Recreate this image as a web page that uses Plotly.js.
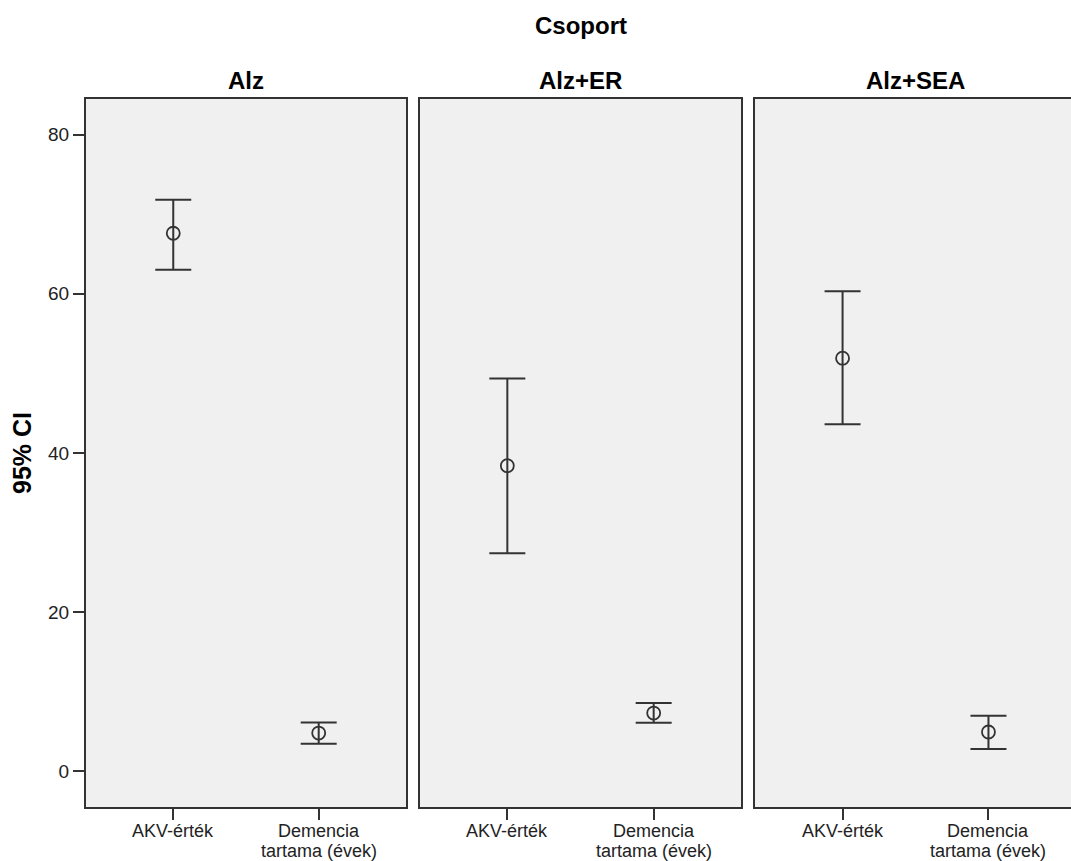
<!DOCTYPE html>
<html><head><meta charset="utf-8">
<script src="https://cdn.plot.ly/plotly-3.0.1.min.js"></script>
<style>html,body{margin:0;padding:0;overflow:hidden;background:#fff;}</style>
</head><body>
<div id="chart" style="width:1080px;height:861px;"></div>
<script>
// Data
const groups = ["Alz", "Alz+ER", "Alz+SEA"];
const categories = ["AKV-érték", "Demencia tartama (évek)"];
const categoryLines = [["AKV-érték"], ["Demencia", "tartama (évek)"]];
const means = [[67.6, 4.82], [38.4, 7.33], [51.9, 4.95]];
const upper = [[71.8, 6.15], [49.35, 8.59], [60.3, 7.0]];
const lower = [[63.0, 3.48], [27.4, 6.11], [43.6, 2.81]];
const yTicks = [0, 20, 40, 60, 80];
const mainTitle = "Csoport";
const yTitle = "95% CI";

const lineCol = "#333333";
const fontFam = "Liberation Sans, Arial, sans-serif";
const traces = groups.map((g, i) => ({
  type: "scatter", mode: "markers",
  x: categories, y: means[i],
  xaxis: i === 0 ? "x" : "x" + (i + 1),
  yaxis: i === 0 ? "y" : "y" + (i + 1),
  marker: {symbol: "circle-open", size: 13, color: lineCol, line: {width: 1.8, color: lineCol}},
  error_y: {type: "data", symmetric: false,
    array: upper[i].map((u, k) => u - means[i][k]),
    arrayminus: lower[i].map((l, k) => means[i][k] - l),
    color: lineCol, thickness: 2, width: 18},
  showlegend: false, hoverinfo: "skip"
}));

const domains = [[0, 0.3232], [0.3369, 0.6621], [0.6758, 1]];
const annotations = [
  {text: "<b>" + mainTitle + "</b>", xref: "paper", yref: "paper", x: 0.4995, y: 1, yshift: 74,
   showarrow: false, xanchor: "center", yanchor: "middle", font: {size: 24, color: "#000", family: fontFam}},
  {text: "<b>" + yTitle + "</b>", xref: "paper", yref: "paper", x: 0, y: 0.5, xshift: -64,
   textangle: -90, showarrow: false, xanchor: "center", yanchor: "middle",
   font: {size: 25, color: "#000", family: fontFam}}
];
groups.forEach((g, i) => {
  annotations.push({
    text: "<b>" + g + "</b>", xref: "paper", yref: "paper",
    x: (domains[i][0] + domains[i][1]) / 2, y: 1, yshift: 19,
    showarrow: false, xanchor: "center", yanchor: "middle", font: {size: 24, color: "#000", family: fontFam}
  });
  const xr = i === 0 ? "x" : "x" + (i + 1);
  categories.forEach((c, k) => {
    categoryLines[k].forEach((ln, j) => {
      annotations.push({
        text: ln, xref: xr, yref: "paper", x: c, y: 0, yshift: -23.5 - 20.5 * j,
        showarrow: false, xanchor: "center", yanchor: "middle",
        font: {size: 18, color: "#222", family: fontFam}
      });
    });
  });
});

const layout = {
  width: 1080, height: 861,
  margin: {l: 86, r: 4, t: 99, b: 54},
  paper_bgcolor: "#ffffff", plot_bgcolor: "#f0f0f0",
  font: {family: fontFam, color: "#222", size: 19},
  showlegend: false,
  annotations: annotations
};
groups.forEach((g, i) => {
  const xk = i === 0 ? "xaxis" : "xaxis" + (i + 1);
  const yk = i === 0 ? "yaxis" : "yaxis" + (i + 1);
  layout[xk] = {
    domain: domains[i], anchor: i === 0 ? "y" : "y" + (i + 1),
    type: "category", range: [-0.6, 1.6], fixedrange: true,
    showgrid: false, zeroline: false,
    showline: true, mirror: true, linecolor: lineCol, linewidth: 2,
    ticks: "outside", ticklen: 11, tickwidth: 2, tickcolor: lineCol,
    showticklabels: false
  };
  layout[yk] = {
    anchor: i === 0 ? "x" : "x" + (i + 1),
    range: [-4.47, 84.46], fixedrange: true,
    showgrid: false, zeroline: false,
    showline: true, mirror: true, linecolor: lineCol, linewidth: 2,
    tickvals: yTicks, ticktext: yTicks.map(String),
    ticks: i === 0 ? "outside" : "", ticklen: 11, tickwidth: 2, tickcolor: lineCol,
    showticklabels: i === 0,
    tickfont: {size: 19, color: "#222", family: fontFam}
  };
  if (i > 0) layout[yk].matches = "y";
});
Plotly.newPlot("chart", traces, layout, {staticPlot: true, displayModeBar: false});
</script>
</body></html>
